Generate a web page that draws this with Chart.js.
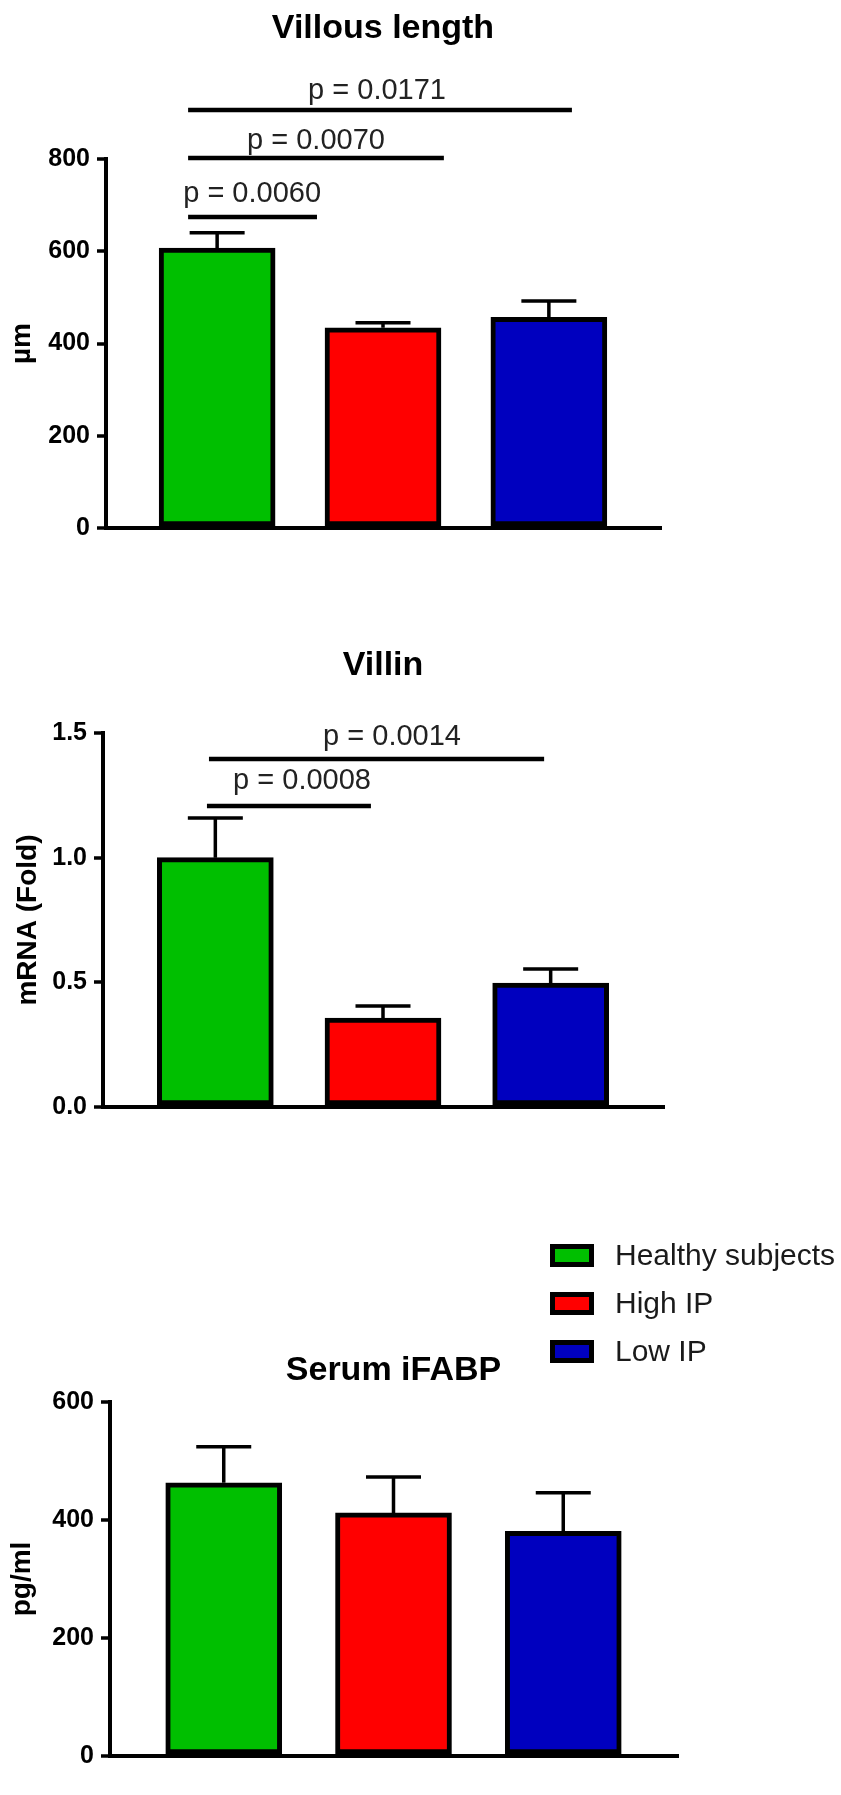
<!DOCTYPE html>
<html>
<head>
<meta charset="utf-8">
<script src="https://cdn.jsdelivr.net/npm/chart.js@4.4.1/dist/chart.umd.min.js"></script>
<style>
  html, body { margin: 0; padding: 0; background: #fff; }
  body { width: 841px; height: 1795px; position: relative; overflow: hidden; }
  .panel { position: absolute; left: 0; width: 841px; }
  canvas { display: block; }
</style>
</head>
<body>
<div class="panel" style="top:0px;height:560px"><canvas id="villous" width="841" height="560"></canvas></div>
<div class="panel" style="top:600px;height:560px"><canvas id="villin" width="841" height="560"></canvas></div>
<div class="panel" style="top:1200px;height:595px"><canvas id="ifabp" width="841" height="595"></canvas></div>
<script>
// ---- groups ----
const groups = ['Healthy subjects', 'High IP', 'Low IP'];
const groupColors = ['#00bf00', '#ff0000', '#0000bf'];

// ---- Villous length (µm) ----
const villousMean = [607, 434, 457];
const villousSem = [33, 11, 35];
const villousTicks = [0, 200, 400, 600, 800];
const villousTickLabels = ['0', '200', '400', '600', '800'];
const villousP = ['p = 0.0060', 'p = 0.0070', 'p = 0.0171'];
const villousPLevel = [674, 802, 906];
const villousPFrom = [-0.175, -0.175, -0.175];
const villousPTo = [0.602, 1.367, 2.139];
const villousPTextX = [0.211, 0.596, 0.964];
const villousPTextY = [707, 821, 929];

// ---- Villin mRNA (fold) ----
const villinMean = [1.0, 0.357, 0.497];
const villinSem = [0.159, 0.048, 0.056];
const villinTicks = [0, 0.5, 1.0, 1.5];
const villinTickLabels = ['0.0', '0.5', '1.0', '1.5'];
const villinP = ['p = 0.0008', 'p = 0.0014'];
const villinPLevel = [1.207, 1.396];
const villinPFrom = [-0.05, -0.038];
const villinPTo = [0.928, 1.961];
const villinPTextX = [0.517, 1.054];
const villinPTextY = [1.274, 1.452];

// ---- Serum iFABP (pg/ml) ----
const ifabpMean = [463, 412, 381];
const ifabpSem = [61, 61, 65];
const ifabpTicks = [0, 200, 400, 600];
const ifabpTickLabels = ['0', '200', '400', '600'];

const FONT = "'Liberation Sans', Arial, Helvetica, sans-serif";

// error bars, significance brackets, panel title and legend
const extras = {
  id: 'panelExtras',
  afterDatasetsDraw(chart, args, o) {
    const { ctx } = chart;
    const x = chart.scales.x, y = chart.scales.y;
    const pts = chart.data.datasets[0].data;
    ctx.save();
    ctx.strokeStyle = '#000';
    ctx.lineWidth = 3.5;
    ctx.lineCap = 'butt';
    pts.forEach((p, i) => {
      const px = x.getPixelForValue(p.x);
      const y0 = y.getPixelForValue(p.y);
      const y1 = y.getPixelForValue(p.y + o.sem[i]);
      ctx.beginPath();
      ctx.moveTo(px, y0); ctx.lineTo(px, y1);
      ctx.moveTo(px - 27.5, y1); ctx.lineTo(px + 27.5, y1);
      ctx.stroke();
    });
    if (o.pText) {
      ctx.lineWidth = 4.5;
      o.pText.forEach((t, i) => {
        const yy = y.getPixelForValue(o.pLevel[i]);
        ctx.beginPath();
        ctx.moveTo(x.getPixelForValue(o.pFrom[i]), yy);
        ctx.lineTo(x.getPixelForValue(o.pTo[i]), yy);
        ctx.stroke();
        ctx.fillStyle = '#222';
        ctx.font = '29px ' + FONT;
        ctx.textAlign = 'center';
        ctx.textBaseline = 'alphabetic';
        ctx.fillText(t, x.getPixelForValue(o.pTextX[i]), y.getPixelForValue(o.pTextY[i]));
      });
    }
    ctx.restore();
  },
  afterDraw(chart, args, o) {
    const { ctx, chartArea } = chart;
    ctx.save();
    ctx.fillStyle = '#000';
    ctx.font = 'bold 34px ' + FONT;
    ctx.textAlign = 'center';
    ctx.textBaseline = 'alphabetic';
    ctx.fillText(o.title, (chartArea.left + chartArea.right) / 2, o.titleBaseline);
    if (o.legend) {
      const lg = o.legend;
      groups.forEach((g, i) => {
        const top = lg.top + i * lg.step;
        ctx.fillStyle = '#000';
        ctx.fillRect(lg.left, top, 44, 23);
        ctx.fillStyle = groupColors[i];
        ctx.fillRect(lg.left + 5, top + 5, 34, 13);
        ctx.fillStyle = '#1a1a1a';
        ctx.font = '30px ' + FONT;
        ctx.textAlign = 'left';
        ctx.textBaseline = 'middle';
        ctx.fillText(g, lg.left + 65, top + 12.5);
      });
    }
    ctx.restore();
  }
};

function makePanel(id, cfg) {
  new Chart(document.getElementById(id), {
    type: 'bar',
    data: {
      datasets: [{
        data: groups.map((g, i) => ({ x: i, y: cfg.mean[i] })),
        backgroundColor: groupColors,
        borderColor: '#000',
        borderWidth: 5,
        borderSkipped: false,
        barThickness: 116
      }]
    },
    options: {
      responsive: false,
      animation: false,
      events: [],
      layout: { padding: { left: 0, right: cfg.padRight, top: cfg.padTop, bottom: cfg.padBottom } },
      plugins: {
        legend: { display: false },
        tooltip: { enabled: false },
        title: { display: false },
        panelExtras: cfg.extras
      },
      scales: {
        x: {
          type: 'linear',
          min: -0.67,
          max: 2.67,
          offset: false,
          ticks: { display: false },
          grid: { display: true, drawOnChartArea: false, drawTicks: false, lineWidth: 4, color: '#000' },
          border: { display: true, color: '#000', width: 4 },
          afterFit: s => { s.height = 10; }
        },
        y: {
          min: cfg.ticks[0],
          max: cfg.ticks[cfg.ticks.length - 1],
          afterBuildTicks: s => { s.ticks = cfg.ticks.map(v => ({ value: v })); },
          ticks: {
            callback: (v, i) => cfg.tickLabels[i],
            color: '#000',
            padding: 7,
            font: { family: FONT, size: 25, weight: 'bold' }
          },
          grid: { display: true, drawOnChartArea: false, drawTicks: true, tickLength: 9, tickWidth: 3.5, tickColor: '#000', lineWidth: 4, color: '#000' },
          border: { display: true, color: '#000', width: 4 },
          title: {
            display: true,
            text: cfg.yTitle,
            color: '#000',
            padding: { top: cfg.yTitlePad, bottom: 0 },
            font: { family: FONT, size: 28, weight: 'bold' }
          },
          afterFit: s => { s.width = cfg.axisLeft; }
        }
      }
    },
    plugins: [extras]
  });
}

makePanel('villous', {
  mean: villousMean, ticks: villousTicks, tickLabels: villousTickLabels,
  yTitle: 'µm', yTitlePad: 5.5,
  axisLeft: 106, padRight: 181, padTop: 159, padBottom: 22,
  extras: {
    title: 'Villous length', titleBaseline: 38, sem: villousSem,
    pText: villousP, pLevel: villousPLevel, pFrom: villousPFrom, pTo: villousPTo,
    pTextX: villousPTextX, pTextY: villousPTextY
  }
});

makePanel('villin', {
  mean: villinMean, ticks: villinTicks, tickLabels: villinTickLabels,
  yTitle: 'mRNA (Fold)', yTitlePad: 11.5,
  axisLeft: 103, padRight: 178, padTop: 133, padBottom: 43,
  extras: {
    title: 'Villin', titleBaseline: 75, sem: villinSem,
    pText: villinP, pLevel: villinPLevel, pFrom: villinPFrom, pTo: villinPTo,
    pTextX: villinPTextX, pTextY: villinPTextY
  }
});

makePanel('ifabp', {
  mean: ifabpMean, ticks: ifabpTicks, tickLabels: ifabpTickLabels,
  yTitle: 'pg/ml', yTitlePad: 5.5,
  axisLeft: 110, padRight: 164, padTop: 202, padBottom: 29,
  extras: {
    title: 'Serum iFABP', titleBaseline: 180, sem: ifabpSem,
    legend: { left: 550, top: 44, step: 48 }
  }
});
</script>
</body>
</html>
